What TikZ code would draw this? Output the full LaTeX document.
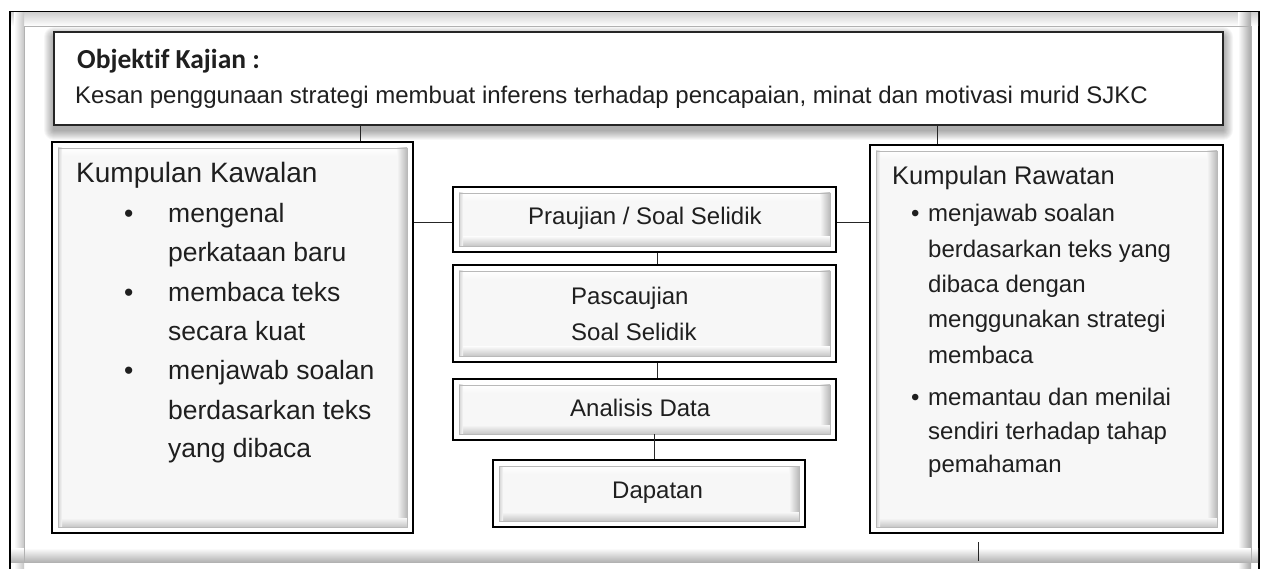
\documentclass[tikz,border=0pt]{standalone}
\usepackage{fontspec}
\setmainfont{Liberation Sans}
\newfontfamily\calib[Ligatures=NoCommon]{Carlito}
\usetikzlibrary{calc}
\newcommand\myfs[1]{\fontsize{#1}{#1}\selectfont}
\tikzset{
  bevel/.style={rectangle, draw=black, line width=2.2pt, fill=white, inner sep=0pt,
    path picture={
      \coordinate (bl) at (path picture bounding box.south west);
      \coordinate (tr) at (path picture bounding box.north east);
      \coordinate (ibl) at ([shift={(6pt,6pt)}]bl);
      \coordinate (itr) at ([shift={(-6pt,-6pt)}]tr);
      \fill[gray!6] (ibl) rectangle (itr);
      \shade[top color=white, bottom color=gray!6] ($(itr -| ibl)+(0,-8pt)$) rectangle (itr);
      \shade[left color=gray!6, right color=gray!55] ($(itr |- ibl)+(-10pt,0)$) rectangle (itr);
      \shade[top color=gray!6, bottom color=gray!45] (ibl) rectangle ($(ibl -| itr)+(0,9pt)$);
      \shade[left color=gray!35, right color=gray!6] (ibl) rectangle ($(itr -| ibl)+(4pt,0)$);
      \draw[gray!55, line width=0.6pt] (ibl) rectangle (itr);
    }},
  conn/.style={draw=black!85, line width=1pt},
  txt/.style={anchor=base west, inner sep=0pt, text=black!88},
  bigtxt/.style={txt, font=\myfs{26.5}},
  midtxt/.style={txt, font=\myfs{24}},
  rtxt/.style={txt, font=\myfs{24}},
}
\begin{document}
\begin{tikzpicture}[x=1pt, y=-1pt]
\useasboundingbox (0,0) rectangle (1267,569);
\clip (0,0) rectangle (1267,569);
\fill[white] (0,0) rectangle (1267,569);
% outer frame
\draw[black, line width=1.5pt, fill=white] (10,12) rectangle (1259,590);
\shade[top color=gray!35, bottom color=white] (11,13) rectangle (1258,26);
\shade[left color=white, right color=gray!45] (14,13) rectangle (24,568);
\shade[left color=white, right color=gray!70] (1238,13) rectangle (1251,568);
\shade[top color=white, bottom color=gray!60] (11,548) rectangle (1258,562);
\draw[gray!60, line width=0.6pt] (24,26) rectangle (1251,562);
% shadow of objective box
\foreach \i in {1,...,10}{
  \fill[black, opacity=0.035, rounded corners=\i pt] (54-\i,32-\i+5) rectangle (1223+\i,125+\i+5);
}
% objective box
\node[rectangle, draw=black!85, line width=1.5pt, fill=white, minimum width=1169pt, minimum height=93pt, inner sep=0pt] (obj) at (638.5,78.5) {};
\node[txt, font=\calib\bfseries\myfs{27.5}] (objT) at (77,69) {Objektif Kajian :};
\node[txt, font=\myfs{24}] (objK) at (75,104) {Kesan penggunaan strategi membuat inferens terhadap pencapaian, minat dan motivasi murid SJKC};
% boxes
\node[bevel, minimum width=361pt, minimum height=391pt] (kaw) at (232.5,337.5) {};
\node[bevel, minimum width=353pt, minimum height=388pt] (raw) at (1046.5,339) {};
\node[bevel, minimum width=383pt, minimum height=65pt] (prau) at (644.5,219.5) {};
\node[bevel, minimum width=383pt, minimum height=97pt] (pasc) at (644.5,313.5) {};
\node[bevel, minimum width=383pt, minimum height=61pt] (anal) at (644.5,409.5) {};
\node[bevel, minimum width=312pt, minimum height=67pt] (dap) at (649,493.5) {};
% connectors
\coordinate (xL) at (360,0);
\coordinate (xR) at (937,0);
\coordinate (xM) at (657,0);
\coordinate (xD) at (654,0);
\coordinate (yP) at (0,223);
\draw[conn] (obj.south -| xL) -- (kaw.north -| xL);
\draw[conn] (obj.south -| xR) -- (raw.north -| xR);
\draw[conn] (kaw.east |- yP) -- (prau.west |- yP);
\draw[conn] (prau.east |- yP) -- (raw.west |- yP);
\draw[conn] (prau.south -| xM) -- (pasc.north -| xM);
\draw[conn] (pasc.south -| xM) -- (anal.north -| xM);
\draw[conn] ($(anal.south -| xD)+(0,7pt)$) -- (dap.north -| xD);
\coordinate (t1) at (978,542);
\coordinate (t2) at (978,561);
\draw[conn] (t1) -- (t2);
% middle texts
\node[midtxt] (prauT) at (528,225) {Praujian / Soal Selidik};
\node[midtxt] (pascT1) at (571,305) {Pascaujian};
\node[midtxt] (pascT2) at (571,341) {Soal Selidik};
\node[midtxt] (analT) at (570,417) {Analisis Data};
\node[midtxt] (dapT) at (612,498) {Dapatan};
% left box texts
\node[txt, font=\myfs{28}] (kawH) at (76,183) {Kumpulan Kawalan};
\node[bigtxt] (kb1) at (124,223) {•};
\node[bigtxt] (kb2) at (124,302) {•};
\node[bigtxt] (kb3) at (124,380) {•};
\node[bigtxt] (k1) at (168,223) {mengenal};
\node[bigtxt] (k2) at (168,262) {perkataan baru};
\node[bigtxt] (k3) at (168,302) {membaca teks};
\node[bigtxt] (k4) at (168,341) {secara kuat};
\node[bigtxt] (k5) at (168,380) {menjawab soalan};
\node[bigtxt] (k6) at (168,419) {berdasarkan teks};
\node[bigtxt] (k7) at (168,457) {yang dibaca};
% right box texts
\node[txt, font=\myfs{25.5}] (rawH) at (892,185) {Kumpulan Rawatan};
\node[rtxt] (rb1) at (911,222) {•};
\node[rtxt] (rb2) at (911,406) {•};
\node[rtxt] (r1) at (928,222) {menjawab soalan};
\node[rtxt] (r2) at (928,258) {berdasarkan teks yang};
\node[rtxt] (r3) at (928,293) {dibaca dengan};
\node[rtxt] (r4) at (928,328) {menggunakan strategi};
\node[rtxt] (r5) at (928,363) {membaca};
\node[rtxt] (r6) at (928,406) {memantau dan menilai};
\node[rtxt] (r7) at (928,439) {sendiri terhadap tahap};
\node[rtxt] (r8) at (928,472) {pemahaman};
\end{tikzpicture}
\end{document}
